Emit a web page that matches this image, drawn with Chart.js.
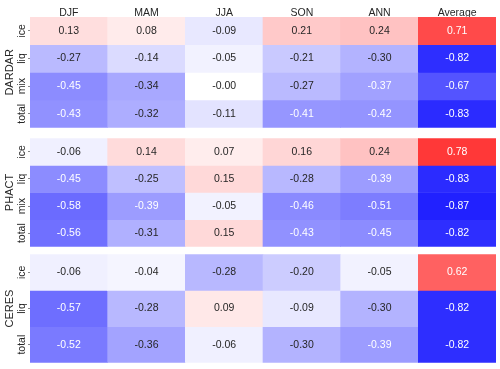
<!DOCTYPE html>
<html>
<head>
<meta charset="utf-8">
<script src="https://cdn.jsdelivr.net/npm/chart.js@4.4.1/dist/chart.umd.min.js"></script>
<style>
  html, body { margin: 0; padding: 0; background: #fff; }
  #wrap { position: relative; width: 500px; height: 369px; }
  canvas { position: absolute; left: 0; }
</style>
</head>
<body>
<div id="wrap">
  <canvas id="dardar" width="500" height="130" style="top:0px"></canvas>
  <canvas id="phact" width="500" height="113" style="top:136px"></canvas>
  <canvas id="ceres" width="500" height="113" style="top:252px"></canvas>
</div>
<script>
const columns = ['DJF', 'MAM', 'JJA', 'SON', 'ANN', 'Average']

const dardarRows = ['ice', 'liq', 'mix', 'total']
const dardarValues = [
  [0.13, 0.08, -0.09, 0.21, 0.24, 0.71],
  [-0.27, -0.14, -0.05, -0.21, -0.30, -0.82],
  [-0.45, -0.34, -0.001, -0.27, -0.37, -0.67],
  [-0.43, -0.32, -0.11, -0.41, -0.42, -0.83],
]

const phactRows = ['ice', 'liq', 'mix', 'total']
const phactValues = [
  [-0.06, 0.14, 0.07, 0.16, 0.24, 0.78],
  [-0.45, -0.25, 0.15, -0.28, -0.39, -0.83],
  [-0.58, -0.39, -0.05, -0.46, -0.51, -0.87],
  [-0.56, -0.31, 0.15, -0.43, -0.45, -0.82],
]

const ceresRows = ['ice', 'liq', 'total']
const ceresValues = [
  [-0.06, -0.04, -0.28, -0.20, -0.05, 0.62],
  [-0.57, -0.28, 0.09, -0.09, -0.30, -0.82],
  [-0.52, -0.36, -0.06, -0.30, -0.39, -0.82],
]

const FONT = 'Liberation Sans, Arial, sans-serif'
const DARK = '#262626'

// matplotlib 'bwr', vmin -1, vmax 1
function bwr(v) {
  const t = Math.max(-1, Math.min(1, v))
  if (t < 0) {
    const c = Math.round(255 * (1 + t))
    return [c, c, 255]
  }
  const c = Math.round(255 * (1 - t))
  return [255, c, c]
}

// seaborn picks the annotation colour from the cell luminance
function textColor(rgb) {
  const lin = rgb.map(c => {
    c /= 255
    return c <= 0.03928 ? c / 12.92 : Math.pow((c + 0.055) / 1.055, 2.4)
  })
  const lum = 0.2126 * lin[0] + 0.7152 * lin[1] + 0.0722 * lin[2]
  return lum > 0.408 ? DARK : '#ffffff'
}

const css = rgb => `rgb(${rgb[0]},${rgb[1]},${rgb[2]})`

function makePanel(id, title, rows, values, showColumns) {
  const datasets = rows.map((row, r) => ({
    label: row,
    data: values[r].map(() => [r, r + 1]),
    backgroundColor: values[r].map(v => css(bwr(v))),
  }))

  const annotate = {
    id: 'annotate',
    afterDatasetsDraw(chart) {
      const ctx = chart.ctx
      ctx.save()
      ctx.font = '10.5px ' + FONT
      ctx.textAlign = 'center'
      ctx.textBaseline = 'middle'
      chart.data.datasets.forEach((ds, r) => {
        chart.getDatasetMeta(r).data.forEach((el, c) => {
          const v = values[r][c]
          const p = el.getCenterPoint()
          ctx.fillStyle = textColor(bwr(v))
          ctx.fillText(v.toFixed(2), p.x, p.y)
        })
      })
      ctx.restore()
    }
  }

  new Chart(document.getElementById(id), {
    type: 'bar',
    data: { labels: columns, datasets },
    plugins: [annotate],
    options: {
      responsive: false,
      animation: false,
      layout: { padding: { left: 0, right: 4, top: 0, bottom: 0 } },
      plugins: { legend: { display: false }, tooltip: { enabled: false } },
      datasets: { bar: { grouped: false, barPercentage: 1, categoryPercentage: 1, borderWidth: 0 } },
      scales: {
        x: {
          display: showColumns,
          position: 'top',
          grid: { display: false, drawTicks: false },
          border: { display: false },
          ticks: { color: DARK, padding: -2, font: { family: FONT, size: 10.5 } },
          afterFit: s => { s.height = showColumns ? 17 : 0 },
        },
        y: {
          reverse: true,
          min: 0,
          max: rows.length,
          grid: { display: true, drawOnChartArea: false, drawTicks: true, tickLength: 2, color: '#888' },
          border: { display: false },
          afterBuildTicks: s => { s.ticks = rows.map((_, i) => ({ value: i + 0.5 })) },
          ticks: {
            color: DARK,
            minRotation: 90,
            maxRotation: 90,
            crossAlign: 'center',
            padding: -4,
            font: { family: FONT, size: 10.5 },
            callback: v => rows[Math.floor(v)],
          },
          title: {
            display: true,
            text: title,
            color: DARK,
            font: { family: FONT, size: 11 },
            padding: { top: 3, bottom: 0 },
          },
          afterFit: s => { s.width = 30 },
        },
      },
    },
  })
}

makePanel('dardar', 'DARDAR', dardarRows, dardarValues, true)
makePanel('phact', 'PHACT', phactRows, phactValues, false)
makePanel('ceres', 'CERES', ceresRows, ceresValues, false)
</script>
</body>
</html>
